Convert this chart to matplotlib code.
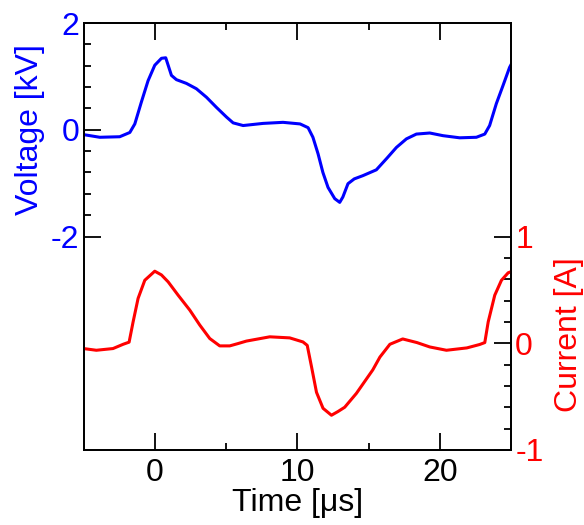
import matplotlib
matplotlib.use("Agg")
import matplotlib.pyplot as plt
from matplotlib.ticker import FixedLocator

plt.rcParams['font.family'] = ['Liberation Sans', 'DejaVu Sans']
plt.rcParams['axes.unicode_minus'] = False

# voltage trace (time in us, voltage in kV)
t_v = [-5.0, -3.86, -2.46, -1.75, -1.40, -0.94, -0.47, 0.0, 0.47, 0.77, 0.94,
       1.17, 1.52, 2.22, 2.92, 3.63, 4.33, 5.03, 5.5, 6.2, 7.6, 9.0, 10.2,
       10.76, 11.1, 11.46, 11.8, 12.16, 12.63, 12.98, 13.2, 13.56, 14.0,
       14.6, 15.55, 16.3, 16.96, 17.66, 18.36, 19.3, 20.23, 21.4, 22.57,
       23.16, 23.5, 23.97, 24.44, 24.9, 25.0]
volt = [-0.09, -0.14, -0.13, -0.05, 0.11, 0.52, 0.92, 1.21, 1.34, 1.35, 1.21,
        1.02, 0.94, 0.87, 0.77, 0.61, 0.42, 0.24, 0.13, 0.08, 0.12, 0.14, 0.11,
        0.04, -0.14, -0.45, -0.80, -1.08, -1.29, -1.36, -1.26, -1.01, -0.92,
        -0.86, -0.75, -0.53, -0.33, -0.17, -0.08, -0.06, -0.11, -0.15, -0.14,
        -0.08, 0.08, 0.49, 0.83, 1.17, 1.22]

# current trace (time in us, current in A)
t_i = [-5.0, -4.1, -2.93, -2.22, -1.80, -1.52, -1.17, -0.70, 0.0, 0.47, 0.94,
       1.64, 2.46, 3.16, 3.86, 4.56, 5.26, 5.85, 6.43, 8.07, 9.47, 10.4,
       10.7, 11.0, 11.35, 11.81, 12.4, 12.86, 13.33, 14.15, 15.3, 15.8,
       16.5, 17.4, 18.4, 19.3, 20.47, 21.9, 22.8, 23.16, 23.4, 23.86, 24.33,
       24.8, 25.0]
curr = [-0.05, -0.066, -0.05, -0.01, 0.01, 0.20, 0.42, 0.59, 0.675, 0.64, 0.575,
        0.45, 0.31, 0.17, 0.044, -0.025, -0.025, -0.003, 0.02, 0.06, 0.05, 0.012,
        -0.02, -0.22, -0.46, -0.61, -0.675, -0.64, -0.60, -0.47, -0.25, -0.13,
        -0.01, 0.04, 0.006, -0.035, -0.066, -0.044, -0.012, 0.006, 0.20, 0.45,
        0.59, 0.66, 0.67]

fig = plt.figure(figsize=(5.84, 5.25), dpi=100)
ax = fig.add_axes([0.143, 0.143, 0.732, 0.813])
ax2 = ax.twinx()

ax.plot(t_v, volt, color='#0000ff', lw=2.2)
ax2.plot(t_i, curr, color='#ff0000', lw=2.2)

ax.set_xlim(-5, 25)
ax.set_ylim(-6, 2)
ax2.set_ylim(-1, 3)

fs = 23
ax.xaxis.set_major_locator(FixedLocator([0, 10, 20]))
ax.xaxis.set_minor_locator(FixedLocator([5, 15]))
ax.yaxis.set_major_locator(FixedLocator([-2, 0, 2]))
ax.yaxis.set_minor_locator(FixedLocator([-1.6, -1.2, -0.8, -0.4, 0.4, 0.8, 1.2, 1.6]))
ax2.yaxis.set_major_locator(FixedLocator([-1, 0, 1]))
ax2.yaxis.set_minor_locator(FixedLocator([-0.8, -0.6, -0.4, -0.2, 0.2, 0.4, 0.6, 0.8]))

ax.tick_params(axis='x', which='both', direction='in', top=True, labelsize=fs,
               pad=6, width=1.3)
ax.tick_params(axis='y', which='both', direction='in', right=False, labelsize=fs,
               labelcolor='#0000ff', pad=3, width=1.3)
ax2.tick_params(axis='y', which='both', direction='in', labelsize=fs,
                labelcolor='#ff0000', pad=3, width=1.3)
for a in (ax, ax2):
    a.tick_params(which='major', length=12)
    a.tick_params(which='minor', length=5)
    for s in a.spines.values():
        s.set_linewidth(1.3)

ax.set_xlabel('Time [μs]', fontsize=fs, labelpad=0)
ax.set_ylabel('Voltage [kV]', fontsize=fs, color='#0000ff')
ax.yaxis.set_label_coords(-0.09, 0.75)
ax2.set_ylabel('Current [A]', fontsize=fs, color='#ff0000')
ax2.yaxis.set_label_coords(1.10, 0.27)

fig.savefig('out.png', dpi=100)
